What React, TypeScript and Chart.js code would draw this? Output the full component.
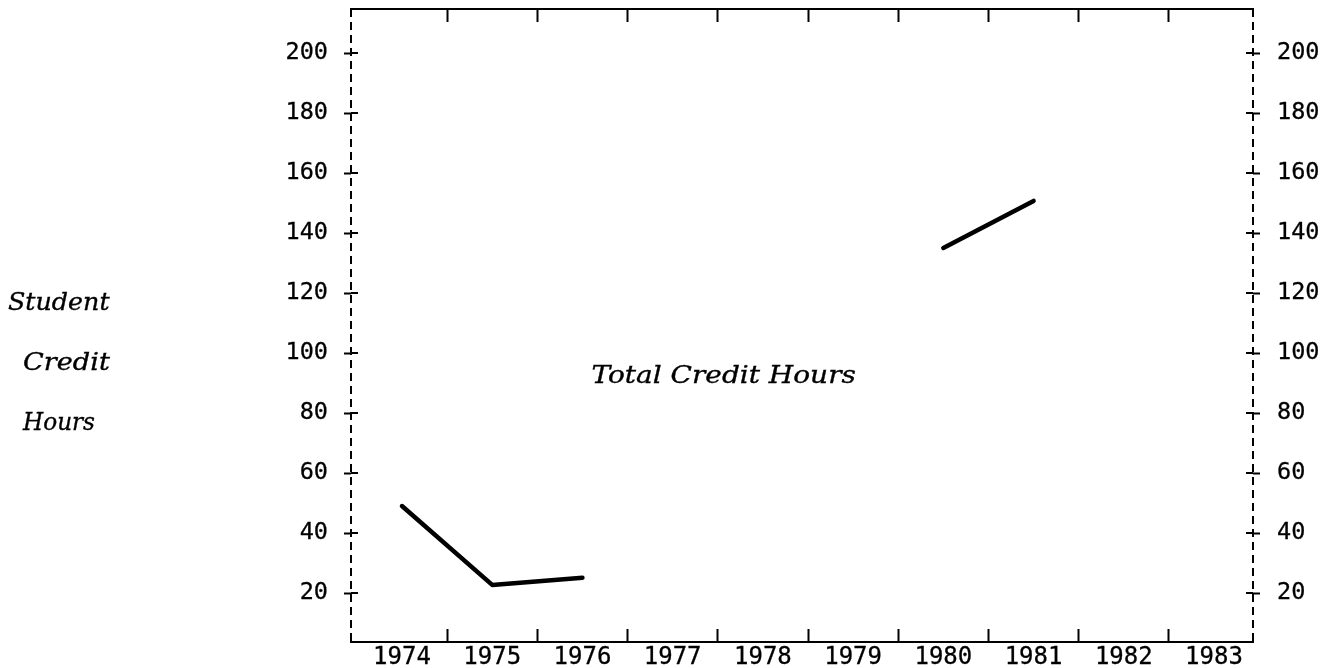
import { useEffect, useRef } from "react";
import { Chart, registerables } from "chart.js";

Chart.register(...registerables);

// ---- data ----
const years: number[] = [1974, 1975, 1976, 1977, 1978, 1979, 1980, 1981, 1982, 1983];
const creditHours: (number | null)[] = [49, 22.7, 25.1, null, null, null, 135, 150.7, null, null];
const yTickValues: number[] = [20, 40, 60, 80, 100, 120, 140, 160, 180, 200];
const yAxisTitleLines: string[] = ["Student", "Credit", "Hours"];
const seriesLabel = "Total Credit Hours";

// axis ranges
const X_MIN = 1973.435;
const X_MAX = 1983.432;
const Y_MIN = 3.67;
const Y_MAX = 214.67;

const TICK_FONT = "'DejaVu Sans Mono', monospace";
const ITALIC_FONT = "italic 24px 'DejaVu Serif', 'Liberation Serif', serif";
const CHAR_PITCH = 14.8; // typewriter pitch of the reference italic text
const CAP_HEIGHT = 17.5; // cap height of the reference italic text

const decorPlugin = {
  id: "decor",
  afterDraw(chart: any) {
    const { ctx, chartArea, scales } = chart;
    const yL = scales.y;
    const yR = scales.y2;
    const x = scales.x;
    ctx.save();
    ctx.strokeStyle = "#000";
    ctx.lineWidth = 2;
    // dashed vertical frame lines
    ctx.setLineDash([8, 5]);
    ctx.beginPath();
    ctx.moveTo(chartArea.left, chartArea.top);
    ctx.lineTo(chartArea.left, chartArea.bottom);
    ctx.moveTo(chartArea.right, chartArea.top);
    ctx.lineTo(chartArea.right, chartArea.bottom);
    ctx.stroke();
    ctx.setLineDash([]);
    // inward halves of the "+" tick marks on both vertical borders
    ctx.beginPath();
    yL.ticks.forEach((t: any) => {
      const py = Math.round(yL.getPixelForValue(t.value));
      ctx.moveTo(chartArea.left, py);
      ctx.lineTo(chartArea.left + 7, py);
    });
    yR.ticks.forEach((t: any) => {
      const py = Math.round(yR.getPixelForValue(t.value));
      ctx.moveTo(chartArea.right, py);
      ctx.lineTo(chartArea.right - 7, py);
    });
    ctx.stroke();

    // texts: serif italic, fitted to the typewriter pitch and cap height
    ctx.fillStyle = "#000";
    ctx.strokeStyle = "#000";
    ctx.font = ITALIC_FONT;
    ctx.textAlign = "left";
    ctx.textBaseline = "alphabetic";
    const capM = ctx.measureText("H");
    const capH = capM.actualBoundingBoxAscent || 17;
    const sy = CAP_HEIGHT / capH;
    const drawText = (s: string, px: number, py: number) => {
      const natural = ctx.measureText(s).width;
      const target = s.length * CHAR_PITCH - 2;
      ctx.save();
      ctx.translate(px, py);
      ctx.scale(target / natural, sy);
      ctx.fillText(s, 0, 0);
      ctx.lineWidth = 0.35;
      ctx.strokeText(s, 0, 0);
      ctx.restore();
    };
    const titleX = [8, 23, 23];
    yAxisTitleLines.forEach((line, i) => {
      const baseVal = yTickValues[5 - i];
      const py = yL.getPixelForValue(baseVal) + 17;
      drawText(line, titleX[i], py);
    });
    drawText(seriesLabel, x.getPixelForValue(1976.1), yL.getPixelForValue(90));
    ctx.restore();
  },
};

export default function App() {
  const canvasRef = useRef<HTMLCanvasElement | null>(null);

  useEffect(() => {
    const canvas = canvasRef.current;
    if (!canvas) return;

    const setYearTicks = (s: any) => {
      s.ticks = years.map((v) => ({ value: v }));
    };
    const setValueTicks = (s: any) => {
      s.ticks = yTickValues.map((v) => ({ value: v }));
    };
    const hideFirst = (c: any) => (c.index === 0 ? "rgba(0,0,0,0)" : "#000");
    const zeroPad = (s: any) => {
      s.paddingTop = 0;
      s.paddingBottom = 0;
      s.paddingLeft = 0;
      s.paddingRight = 0;
    };

    const chart = new Chart(canvas, {
      type: "line",
      data: {
        datasets: [
          {
            label: seriesLabel,
            data: years.map((yr, i) => ({ x: yr, y: creditHours[i] })) as any,
            borderColor: "#000",
            backgroundColor: "#000",
            borderWidth: 4.5,
            pointRadius: 0,
            tension: 0,
            spanGaps: false,
            borderCapStyle: "round",
            borderJoinStyle: "round",
            xAxisID: "x",
            yAxisID: "y",
          },
        ],
      },
      options: {
        responsive: false,
        animation: false,
        events: [],
        layout: { padding: { left: 281, right: 17, top: 9, bottom: 0 } },
        plugins: { legend: { display: false }, tooltip: { enabled: false } },
        scales: {
          x: {
            type: "linear",
            position: "bottom",
            min: X_MIN,
            max: X_MAX,
            afterBuildTicks: setYearTicks,
            afterFit: (s: any) => {
              s.height = 26;
              zeroPad(s);
            },
            ticks: {
              callback: (v: any) => String(v),
              color: "#000",
              font: { family: TICK_FONT, size: 24 },
              textStrokeColor: "#000",
              textStrokeWidth: 0.3,
              padding: 14,
              maxRotation: 0,
              autoSkip: false,
            },
            grid: {
              offset: true,
              drawOnChartArea: false,
              drawTicks: true,
              tickLength: -13,
              tickWidth: 2,
              color: hideFirst,
            },
            border: { display: true, color: "#000", width: 2 },
          },
          xTop: {
            type: "linear",
            position: "top",
            min: X_MIN,
            max: X_MAX,
            afterBuildTicks: setYearTicks,
            afterFit: (s: any) => {
              s.height = 0;
              zeroPad(s);
            },
            ticks: { display: false },
            grid: {
              offset: true,
              drawOnChartArea: false,
              drawTicks: true,
              tickLength: -13,
              tickWidth: 2,
              color: hideFirst,
            },
            border: { display: true, color: "#000", width: 2 },
          },
          y: {
            type: "linear",
            position: "left",
            min: Y_MIN,
            max: Y_MAX,
            afterBuildTicks: setValueTicks,
            afterFit: (s: any) => {
              s.width = 70;
              zeroPad(s);
            },
            ticks: {
              color: "#000",
              font: { family: TICK_FONT, size: 23.5 },
              textStrokeColor: "#000",
              textStrokeWidth: 0.3,
              padding: 16,
              callback: (v: any) => String(v),
            },
            grid: {
              drawOnChartArea: false,
              drawTicks: true,
              tickLength: 7,
              tickWidth: 2,
              color: "#000",
            },
            border: { display: false },
          },
          y2: {
            type: "linear",
            position: "right",
            min: Y_MIN,
            max: Y_MAX,
            afterBuildTicks: setValueTicks,
            afterFit: (s: any) => {
              s.width = 70;
              zeroPad(s);
            },
            ticks: {
              color: "#000",
              font: { family: TICK_FONT, size: 23.5 },
              textStrokeColor: "#000",
              textStrokeWidth: 0.3,
              padding: 17,
              callback: (v: any) => String(v),
            },
            grid: {
              drawOnChartArea: false,
              drawTicks: true,
              tickLength: 7,
              tickWidth: 2,
              color: "#000",
            },
            border: { display: false },
          },
        },
      } as any,
      plugins: [decorPlugin],
    });

    return () => {
      chart.destroy();
    };
  }, []);

  return (
    <div style={{ position: "fixed", left: 0, top: 0, width: 1340, height: 668, background: "#fff" }}>
      <canvas ref={canvasRef} width={1340} height={668} style={{ display: "block" }} />
    </div>
  );
}
